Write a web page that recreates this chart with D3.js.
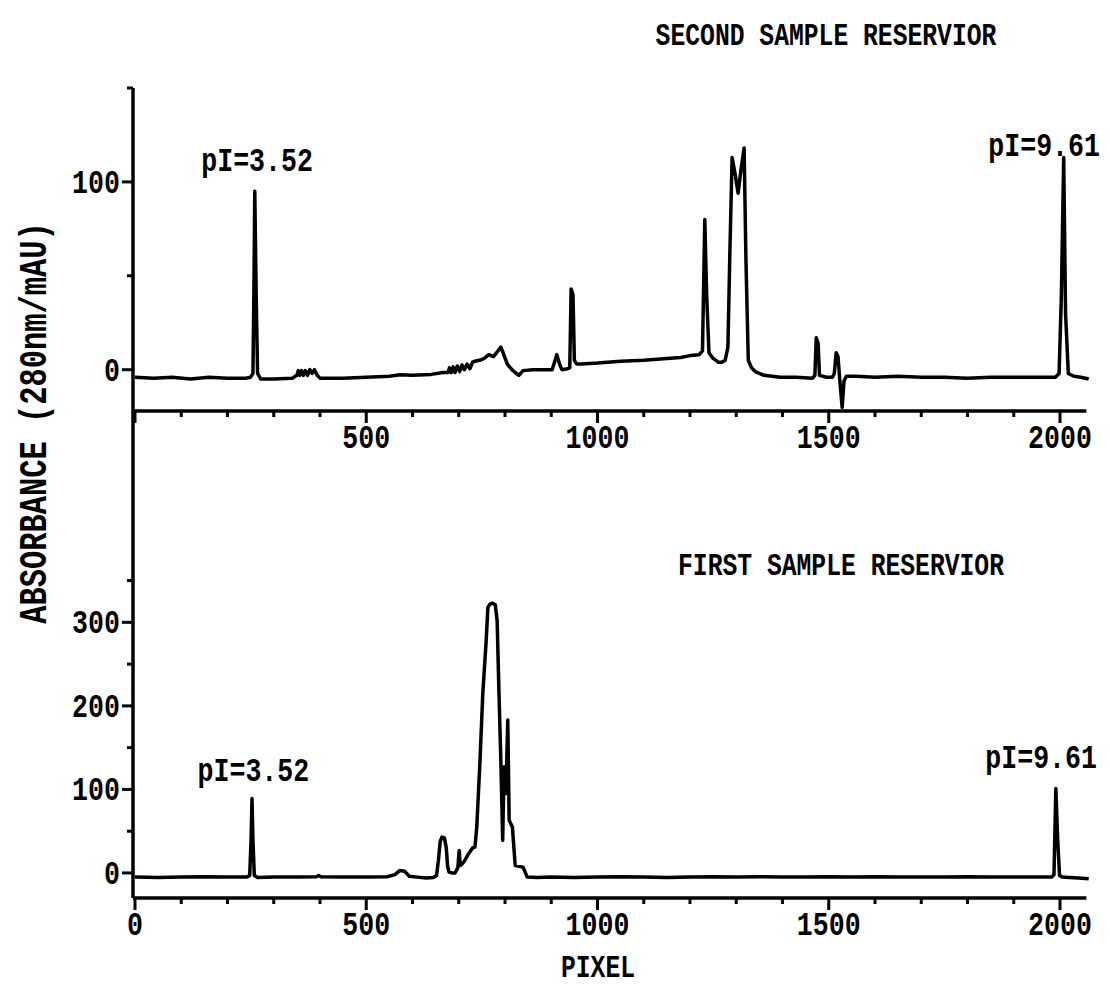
<!DOCTYPE html>
<html>
<head>
<meta charset="utf-8">
<script src="https://cdn.jsdelivr.net/npm/d3@7"></script>
<style>
  body { margin: 0; background: #fff; }
  text { font-family: "Liberation Mono", "DejaVu Sans Mono", monospace; font-weight: bold; fill: #000; }
</style>
</head>
<body>
<script>
// trace of the second sample reservoir (top panel)
const topPixel = [0, 40, 80, 120, 160, 200, 240, 250, 255, 257, 259, 262, 265, 272, 300, 340,
  350, 353, 356, 360, 364, 368, 373, 378, 383, 388, 394, 400, 450, 500, 550, 573, 600, 640, 666,
  677, 680, 684, 688, 692, 697, 702, 707, 712, 718, 724, 730, 735, 745, 755, 765, 775, 785, 791, 796,
  805, 815, 822, 830, 839, 860, 902, 907, 912, 918, 923, 935, 940, 943, 947, 950, 955, 965, 1000,
  1050, 1100, 1150, 1180, 1200, 1220, 1227, 1232, 1236, 1241, 1250, 1261, 1269, 1276, 1282, 1286,
  1291, 1297, 1304, 1310, 1317, 1321, 1326, 1333, 1341, 1360, 1395, 1430, 1465, 1470, 1473, 1477,
  1480, 1495, 1508, 1512, 1516, 1520, 1524, 1529, 1533, 1538, 1560, 1600, 1650, 1700, 1750, 1800,
  1850, 1900, 1950, 1990, 1998, 2003, 2008, 2012, 2018, 2030, 2045, 2062];
const topAbs = [-4, -4.5, -4, -5, -4, -4.5, -4.5, -4, -2, 40, 95, 40, -2, -5, -5, -4.5,
  -3, -0.5, -3, -0.5, -3, -0.5, -3, 0, -2, 0, -3, -4.5, -4.5, -4, -3.5, -2.7, -3, -2.5, -1.5,
  -1.5, 1, -1.5, 1.5, -1.5, 2, -1, 2.5, 0, 3, 0.5, 4, 4.5, 5, 6, 8, 7, 10, 12, 9,
  3, 0, -1.5, -3, -0.5, 0, 0, 4, 8, 3, 0, 0.5, 1, 43, 40, 5, 3, 3, 3.5,
  4.5, 5, 6, 6.5, 7.5, 8, 10, 80, 40, 9, 6, 4, 4, 5, 12, 60,
  113, 105, 94, 106, 118, 58, 5, 1, -1, -3, -4, -4, -4.5, -3, 17, 14,
  -3, -4, -4, -2, 9, 7, -6, -20, -6, -3.5, -3.5, -4, -3.5, -4, -4, -4.5,
  -4, -4, -4, -4, -2, 40, 113, 30, -2, -3.5, -4, -5];

// trace of the first sample reservoir (bottom panel)
const botPixel = [0, 50, 100, 150, 200, 242, 248, 251, 253, 255, 258, 265, 300, 350, 392, 397,
  402, 450, 500, 545, 562, 573, 583, 593, 610, 630, 645, 652, 656, 660, 664, 669, 673, 676, 679,
  685, 692, 698, 701, 703, 706, 712, 720, 730, 735, 739, 746, 752, 759, 763, 768, 773, 779, 783,
  787, 791, 795, 798, 802, 806, 809, 816, 822, 839, 848, 870, 900, 950, 1000, 1050, 1100, 1150,
  1200, 1250, 1300, 1350, 1400, 1450, 1500, 1550, 1600, 1650, 1700, 1750, 1800, 1850, 1900, 1950,
  1982, 1987, 1991, 1995, 1999, 2005, 2020, 2040, 2062];
const botAbs = [-5, -5.5, -5, -4.5, -5, -5, -3, 40, 89, 40, -3, -5.5, -5, -5, -4.5, -3,
  -4.5, -5, -5, -4.5, -2, 3, 2, -4, -5, -6, -5.5, -3, 15, 38, 43, 42, 30, 8, 1,
  0, 0, 6, 27, 9, 10, 14, 22, 30, 31, 55, 135, 215, 275, 318, 322, 323, 321, 302,
  215, 135, 39, 127, 95, 183, 63, 55, 9, 7, -5, -5.5, -5, -5.5, -5, -4.5, -5, -5.5,
  -5, -4.5, -5, -4.5, -5, -5, -4.5, -5, -4.5, -5, -5, -5, -4.5, -5, -5, -5,
  -5, -2, 101, 40, -3, -5, -5.5, -6, -7];

const xTicksMajor = [0, 500, 1000, 1500, 2000];
const topYTicks = [0, 50, 100, 150];
const topYLabels = [0, 100];
const botYTicks = [0, 50, 100, 150, 200, 250, 300, 350];
const botYLabels = [0, 100, 200, 300];

const w = 1110;
const h = 990;

const svg = d3.select("body")
  .append("svg")
    .attr("width", w)
    .attr("height", h);

const x = d3.scaleLinear()
    .domain([0, 2000])
    .range([135, 1060]);
const xEnd = 2057;

const yTop = d3.scaleLinear()
    .domain([-22, 150])
    .range([411, 88]);

const yBot = d3.scaleLinear()
    .domain([-30, 553])
    .range([898, 411]);

const minorX = d3.range(0, xEnd, 100);

// plotter-like lettering: mono font stretched a bit taller
function label(parent, px, py, str, size, anchor, rot) {
  const g = parent.append("g")
      .attr("transform", `translate(${px}, ${py})` + (rot ? ` rotate(${rot})` : "") + " scale(0.95, 1.2)");
  g.append("text")
      .attr("text-anchor", anchor)
      .attr("font-size", size)
      .text(str);
  return g;
}

// x axes: long ticks at 500s, short ones at 100s
function drawXAxis(yPos, showZero) {
  const g = svg.append("g").attr("transform", `translate(0, ${yPos})`);
  g.append("line")
      .attr("x1", 133).attr("x2", x(xEnd))
      .attr("stroke", "#000").attr("stroke-width", 3.5);
  g.selectAll(".tk").data(minorX).enter().append("line")
      .attr("x1", d => x(d)).attr("x2", d => x(d))
      .attr("y1", 0).attr("y2", d => d % 500 === 0 ? 12 : 6)
      .attr("stroke", "#000").attr("stroke-width", 3);
  xTicksMajor.filter(d => showZero || d > 0)
      .forEach(d => label(g, x(d), 37, d, 28, "middle"));
}

drawXAxis(yTop(-22), false);
drawXAxis(yBot(-30), true);

// y axis, one long line through both panels
svg.append("line")
    .attr("x1", 133).attr("x2", 133)
    .attr("y1", yTop(150)).attr("y2", yBot(-30))
    .attr("stroke", "#000").attr("stroke-width", 3.5);

function drawYTicks(scale, ticks, labels) {
  const g = svg.append("g");
  g.selectAll("line").data(ticks).enter().append("line")
      .attr("x1", d => labels.includes(d) ? 122 : 127).attr("x2", 133)
      .attr("y1", d => scale(d)).attr("y2", d => scale(d))
      .attr("stroke", "#000").attr("stroke-width", 3);
  labels.forEach(d => label(g, 120, scale(d) + 11, d, 28, "end"));
}

drawYTicks(yTop, topYTicks, topYLabels);
drawYTicks(yBot, botYTicks, botYLabels);

// traces
const topLine = d3.line()
    .x((d, i) => x(topPixel[i]))
    .y(d => yTop(d));
const botLine = d3.line()
    .x((d, i) => x(botPixel[i]))
    .y(d => yBot(d));

svg.append("path")
    .attr("d", topLine(topAbs))
    .attr("fill", "none")
    .attr("stroke", "#000")
    .attr("stroke-width", 3.5)
    .attr("stroke-linejoin", "round");

svg.append("path")
    .attr("d", botLine(botAbs))
    .attr("fill", "none")
    .attr("stroke", "#000")
    .attr("stroke-width", 3.5)
    .attr("stroke-linejoin", "round");

// titles and peak labels
label(svg, 826, 45, "SECOND SAMPLE RESERVIOR", 26, "middle");
label(svg, 841, 575, "FIRST SAMPLE RESERVIOR", 26, "middle");

label(svg, x(264), 171, "pI=3.52", 28, "middle");
label(svg, 1100, 156, "pI=9.61", 28, "end");
label(svg, x(256), 781, "pI=3.52", 28, "middle");
label(svg, 1097, 768, "pI=9.61", 28, "end");

label(svg, 46, 423, "ABSORBANCE (280nm/mAU)", 32, "middle", -90);
label(svg, 598, 977, "PIXEL", 26, "middle");
</script>
</body>
</html>
